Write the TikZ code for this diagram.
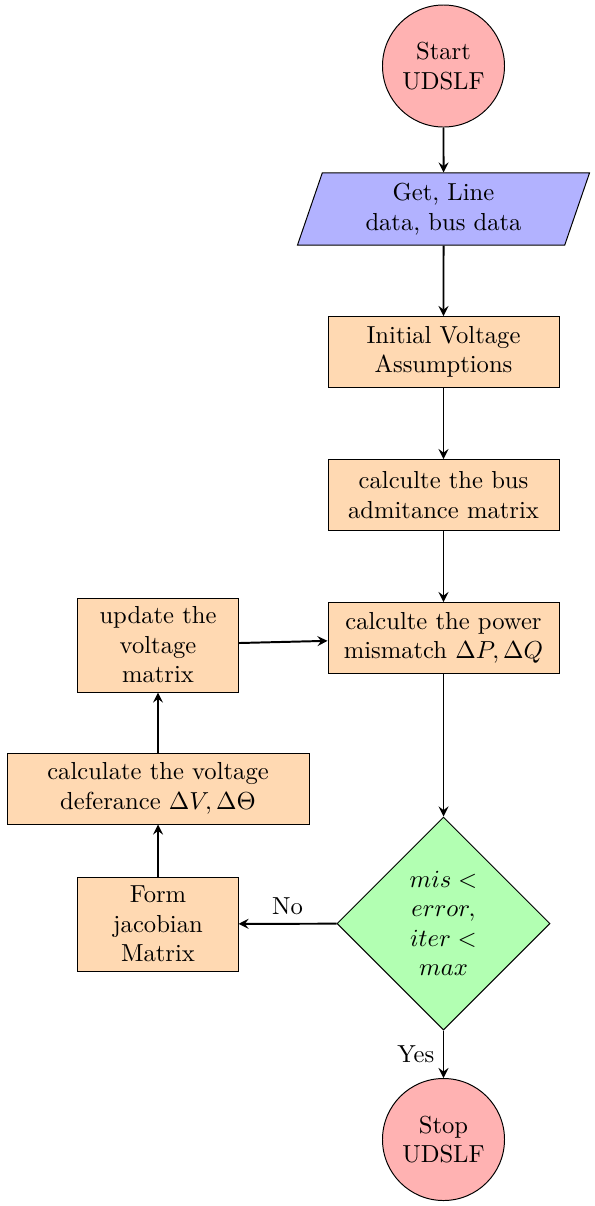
\documentclass[tikz,border=0pt]{standalone}
\usetikzlibrary{shapes.geometric,arrows.meta}
\begin{document}
\begin{tikzpicture}[x=0.40643pt,y=-0.40643pt,
  startstop/.style={circle, draw, fill=red!30, minimum size=1.743cm, inner sep=1pt, align=center},
  iobox/.style={trapezium, trapezium left angle=70, trapezium right angle=110,
    trapezium stretches body=true, draw, fill=blue!30, minimum width=4.171cm,
    minimum height=1.029cm, align=center},
  procbox/.style={rectangle, draw, fill=orange!30, minimum width=3.3cm, minimum height=1.014cm, align=center},
  narrowbox/.style={rectangle, draw, fill=orange!30, minimum width=2.286cm, minimum height=1.343cm, align=center},
  widebox/.style={rectangle, draw, fill=orange!30, minimum width=4.314cm, minimum height=1.014cm, align=center},
  decision/.style={diamond, draw, fill=green!30, minimum width=3.043cm, minimum height=3.043cm, inner sep=1pt, aspect=1, align=center},
  flowarrow/.style={thick, ->, >=stealth}
]
\useasboundingbox (0,0) rectangle (595,1206);
\node[startstop] (start) at (443.5,66) {Start\\UDSLF};
\node[iobox] (io) at (443.5,209) {Get, Line\\data, bus data};
\node[procbox] (init) at (443.5,352) {Initial Voltage\\Assumptions};
\node[procbox] (bus) at (443.5,495) {calculte the bus\\admitance matrix};
\node[procbox] (power) at (443.5,638) {calculte the power\\mismatch $\Delta P, \Delta Q$};
\node[decision] (dec) at (443.5,923.5) {$mis<$\\$error,$\\$iter<$\\$max$};
\node[startstop] (stop) at (443.5,1139.5) {Stop\\UDSLF};
\node[narrowbox] (update) at (158,645) {update the\\voltage\\matrix};
\node[widebox] (volt) at (158,788.5) {calculate the voltage\\deferance $\Delta V, \Delta\Theta$};
\node[narrowbox] (jac) at (158,924) {Form\\jacobian\\Matrix};

\draw[flowarrow] (start) -- (io);
\draw[flowarrow] (io) -- (init);
\draw[flowarrow] (init) -- (bus);
\draw[flowarrow] (bus) -- (power);
\draw[flowarrow] (power) -- (dec);
\draw[flowarrow] (dec) -- node[left] {Yes} (stop);
\draw[flowarrow] (dec) -- node[above] {No} (jac);
\draw[flowarrow] (jac) -- (volt);
\draw[flowarrow] (volt) -- (update);
\draw[flowarrow] (update) -- (power);
\end{tikzpicture}
\end{document}
